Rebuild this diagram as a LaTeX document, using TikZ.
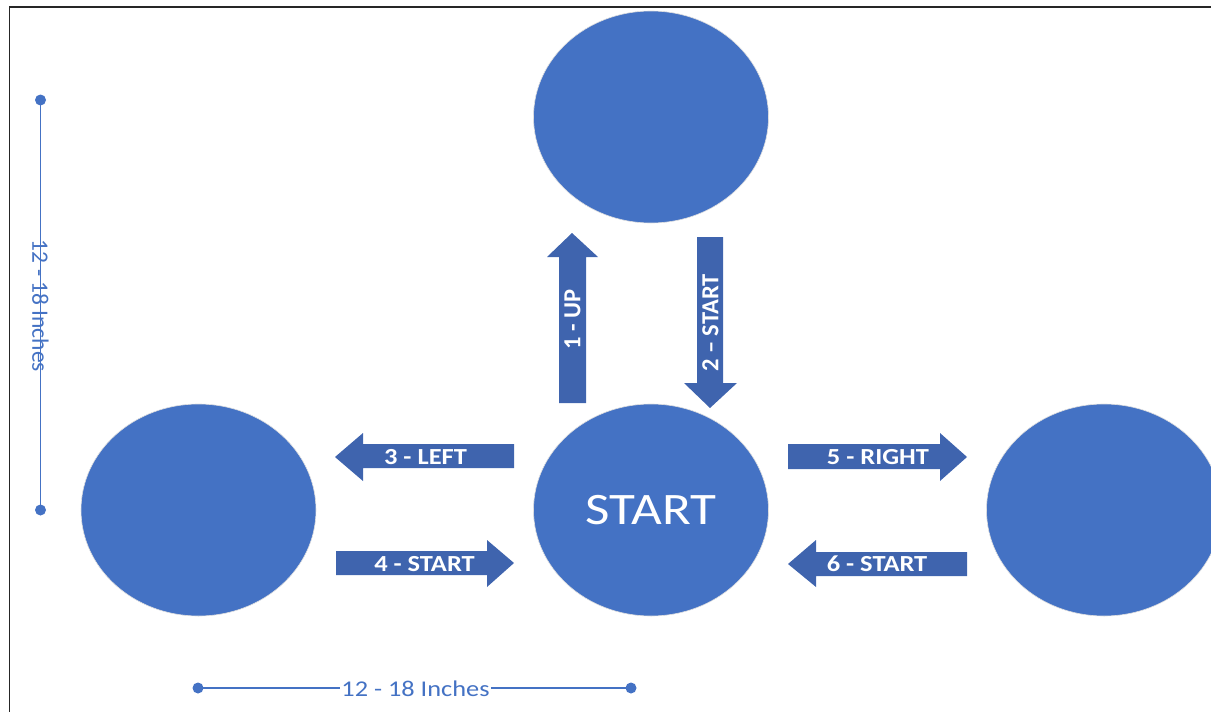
\documentclass[tikz,border=0pt]{standalone}
\usepackage{fontspec}
\setmainfont{Carlito}
\usetikzlibrary{shapes.geometric}
\definecolor{circblue}{RGB}{68,114,196}
\definecolor{arrblue}{RGB}{63,100,174}
\definecolor{dimblue}{RGB}{68,114,196}
\newcommand{\wide}[1]{\scalebox{1.15}[1]{#1}}
\tikzset{
  circ/.style={ellipse, fill=circblue, draw=white!75!gray, line width=0.6pt,
    minimum width=235pt, minimum height=212pt, inner sep=0pt, outer sep=0pt},
  blockarrow/.style={fill=arrblue, draw=none},
  arrlabel/.style={text=white, font=\bfseries\fontsize{23}{24}\selectfont, inner sep=0pt},
  varrlabel/.style={text=white, font=\bfseries\fontsize{24.5}{25}\selectfont, inner sep=0pt, rotate=90},
  dimline/.style={draw=dimblue, line width=1.5pt},
  dimdot/.style={fill=dimblue},
  dimlabel/.style={text=dimblue, fill=white, inner sep=1pt}
}
\begin{document}
\begin{tikzpicture}[x=1pt,y=-1pt]
\useasboundingbox (0,0) rectangle (1211,712);
\clip (0,0) rectangle (1211,712);
% frame
\draw[line width=1.8pt, black!85] (9.5,712) -- (9.5,7) -- (1211,7);
% circles
\node[circ] (top) at (651,117) {};
\node[circ, text=white, font=\fontsize{45}{48}\selectfont] (start) at (651,510) {\scalebox{1.18}[1]{START}};
\node[circ] (left) at (198.5,510) {};
\node[circ] (right) at (1104,510) {};
% 1 - UP
\fill[blockarrow] (559,403) -- (559,257) -- (547,257) -- (572,233) -- (598,257) -- (586,257) -- (586,403) -- cycle;
\node[varrlabel] (l1) at (572.5,319) {1 - UP};
% 2 - START
\fill[blockarrow] (697,237) -- (723,237) -- (723,383) -- (737,383) -- (710,408) -- (684,383) -- (697,383) -- cycle;
\node[varrlabel] (l2) at (710.5,323) {2 – START};
% 3 - LEFT
\fill[blockarrow] (514,444) -- (363,444) -- (363,433) -- (335,457) -- (363,481) -- (363,468) -- (514,468) -- cycle;
\node[arrlabel] (l3) at (425.5,457) {\wide{3 - LEFT}};
% 4 - START
\fill[blockarrow] (336,551) -- (487,551) -- (487,540) -- (514,563) -- (487,587) -- (487,575) -- (336,575) -- cycle;
\node[arrlabel] (l4) at (424.5,564) {\wide{4 - START}};
% 5 - RIGHT
\fill[blockarrow] (788,444) -- (940,444) -- (940,433) -- (967,457) -- (940,481) -- (940,469) -- (788,469) -- cycle;
\node[arrlabel] (l5) at (878,457) {\wide{5 - RIGHT}};
% 6 - START
\fill[blockarrow] (967,552) -- (816,552) -- (816,540) -- (788,564) -- (816,587) -- (816,576) -- (967,576) -- cycle;
\node[arrlabel] (l6) at (877,564) {\wide{6 - START}};
% vertical dimension
\coordinate (vt) at (40.5,100);
\coordinate (vb) at (40.5,510);
\node[dimlabel, rotate=-90, font=\fontsize{23.5}{24}\selectfont] (vlab) at (40.5,306) {12 - 18 Inches};
\draw[dimline] (vt) -- (vlab.east);
\draw[dimline] (vlab.west) -- (vb);
\fill[dimdot] (vt) circle (5.5);
\fill[dimdot] (vb) circle (5.5);
% horizontal dimension
\coordinate (hl) at (198,688);
\coordinate (hr) at (631,688);
\node[dimlabel, font=\fontsize{22.5}{24}\selectfont] (hlab) at (415.5,689) {\scalebox{1.17}[1]{12 - 18 Inches}};
\draw[dimline] (hl) -- (hlab.west |- hl);
\draw[dimline] (hlab.east |- hr) -- (hr);
\fill[dimdot] (hl) circle (5.5);
\fill[dimdot] (hr) circle (5.5);
\end{tikzpicture}
\end{document}
